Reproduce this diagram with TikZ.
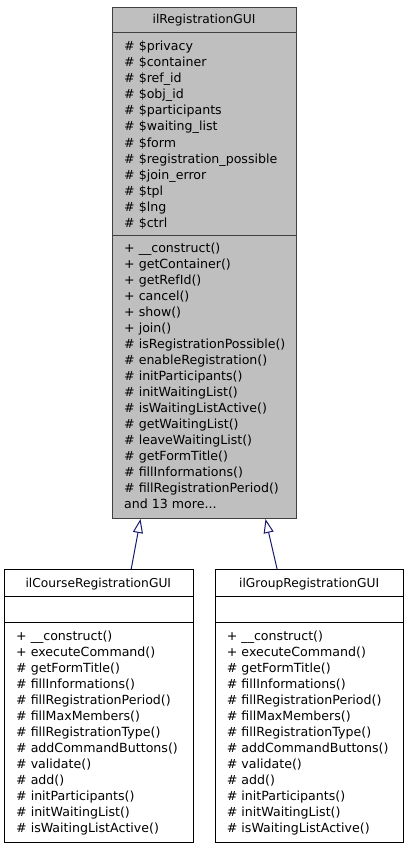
\documentclass[tikz,border=0pt]{standalone}
\usepackage{fontspec}
\setmainfont{DejaVu Sans}
\usetikzlibrary{arrows.meta}
\definecolor{boxgray}{HTML}{BFBFBF}
\definecolor{edgegray}{HTML}{404040}
\definecolor{navyarrow}{RGB}{25,25,112}
\tikzset{
  classbox/.style={rectangle, draw, line width=1pt, inner sep=0pt, anchor=north west},
  member/.style={anchor=base west, inner sep=0pt, font=\fontsize{12.6}{16}\selectfont},
  title/.style={anchor=base, inner sep=0pt, font=\fontsize{12.25}{16}\selectfont},
  inherit/.style={draw=navyarrow, line width=1pt, -{Triangle[open, length=14pt, width=10pt]}}
}
\begin{document}
\begin{tikzpicture}[x=1pt,y=-1pt]
\useasboundingbox (0,0) rectangle (408,848);
\fill[white] (0,0) rectangle (408,848);
% base class
\node[classbox, fill=boxgray, draw=edgegray, minimum width=184pt, minimum height=511pt] (base) at (112,7) {};
\draw[edgegray, line width=1pt] (base.west |- 0,33) -- (base.east |- 0,33);
\draw[edgegray, line width=1pt] (base.west |- 0,235) -- (base.east |- 0,235);
\node[title] (basetitle) at (204,24) {ilRegistrationGUI};
\foreach \t [count=\i from 0] in {\# \$privacy, \# \$container, \# \$ref\_id, \# \$obj\_id, \# \$participants, \# \$waiting\_list, \# \$form, \# \$registration\_possible, \# \$join\_error, \# \$tpl, \# \$lng, \# \$ctrl}
  \node[member] (ba\i) at (124,51+16*\i) {\t};
\foreach \t [count=\i from 0] in {+ \_\_construct(), + getContainer(), + getRefId(), + cancel(), + show(), + join(), \# isRegistrationPossible(), \# enableRegistration(), \# initParticipants(), \# initWaitingList(), \# isWaitingListActive(), \# getWaitingList(), \# leaveWaitingList(), \# getFormTitle(), \# fillInformations(), \# fillRegistrationPeriod(), {and 13 more{.}{.}{.}}}
  \node[member] (bm\i) at (124,252.5+16*\i) {\t};
% course
\node[classbox, fill=white, draw=black, minimum width=188.5pt, minimum height=272.5pt] (course) at (4,569.3) {};
\draw[black, line width=1pt] (course.west |- 0,596) -- (course.east |- 0,596);
\draw[black, line width=1pt] (course.west |- 0,622.7) -- (course.east |- 0,622.7);
\node[title] (coursetitle) at (98.3,587) {ilCourseRegistrationGUI};
% group
\node[classbox, fill=white, draw=black, minimum width=188.3pt, minimum height=272.5pt] (group) at (215,569.3) {};
\draw[black, line width=1pt] (group.west |- 0,596) -- (group.east |- 0,596);
\draw[black, line width=1pt] (group.west |- 0,622.7) -- (group.east |- 0,622.7);
\node[title] (grouptitle) at (309.2,587) {ilGroupRegistrationGUI};
\foreach \t [count=\i from 0] in {+ \_\_construct(), + executeCommand(), \# getFormTitle(), \# fillInformations(), \# fillRegistrationPeriod(), \# fillMaxMembers(), \# fillRegistrationType(), \# addCommandButtons(), \# validate(), \# add(), \# initParticipants(), \# initWaitingList(), \# isWaitingListActive()}
{
  \node[member] (cm\i) at (16,640.5+16*\i) {\t};
  \node[member] (gm\i) at (226.7,640.5+16*\i) {\t};
}
% inheritance
\draw[inherit] ([xshift=32.4pt]course.north) -- ([xshift=-64pt]base.south);
\draw[inherit] ([xshift=-32.5pt]group.north) -- ([xshift=61pt]base.south);
\end{tikzpicture}
\end{document}
